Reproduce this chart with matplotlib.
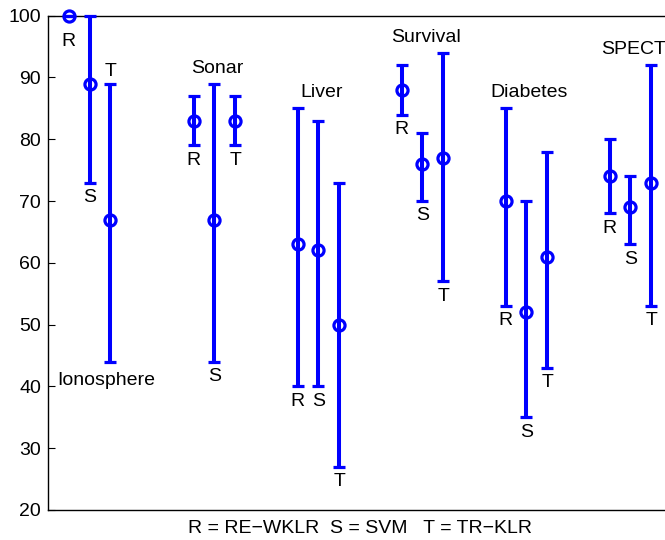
import matplotlib
matplotlib.use('Agg')
import matplotlib.pyplot as plt
import numpy as np

plt.rcParams['font.family'] = ['Liberation Sans', 'DejaVu Sans']

datasets = ['Ionosphere', 'Sonar', 'Liver', 'Survival', 'Diabetes', 'SPECT']
methods = ['R', 'S', 'T']

# accuracy (%) : mean, lower and upper end of the bar
mean_R = [100, 83, 63, 88, 70, 74]
low_R = [100, 79, 40, 84, 53, 68]
high_R = [100, 87, 85, 92, 85, 80]

mean_S = [89, 67, 62, 76, 52, 69]
low_S = [73, 44, 40, 70, 35, 63]
high_S = [100, 89, 83, 81, 70, 74]

mean_T = [67, 83, 50, 77, 61, 73]
low_T = [44, 79, 27, 57, 43, 53]
high_T = [89, 87, 73, 94, 78, 92]

legend_text = 'R = RE\u2212WKLR  S = SVM   T = TR\u2212KLR'

group_x = np.array([1.0, 2.2, 3.2, 4.2, 5.2, 6.2])
offsets = [-0.2, 0.0, 0.2]
fs = 14

fig = plt.figure(figsize=(6.65, 5.4), dpi=100)
ax = fig.add_axes([48 / 665, 30 / 540, 624 / 665, 494.3 / 540])

series = [(mean_R, low_R, high_R), (mean_S, low_S, high_S), (mean_T, low_T, high_T)]
for k, (m, lo, hi) in enumerate(series):
    m = np.array(m, dtype=float)
    lo = np.array(lo, dtype=float)
    hi = np.array(hi, dtype=float)
    x = group_x + offsets[k]
    ax.errorbar(x, m, yerr=[m - lo, hi - m], fmt='o', color='#0000ff',
                ecolor='#0000ff', elinewidth=2.9, capsize=4.5, capthick=2.6,
                markersize=8, markeredgewidth=2.3, markerfacecolor='none',
                clip_on=False, zorder=3)

    # method letters under the bars (one goes above)
    for i in range(len(datasets)):
        if i == 0 and k == 0:
            y = m[i] - 4.2
        elif i == 0 and k == 2:
            y = hi[i] + 2.0
        else:
            y = lo[i] - 2.4
        ax.text(x[i], y, methods[k], ha='center', va='center', fontsize=fs)

# dataset names
highs = np.max([high_R, high_S, high_T], axis=0)
for i, name in enumerate(datasets):
    if i == 0:
        ax.text(1.16, low_T[0] - 3.1, name, ha='center', va='center', fontsize=fs)
    else:
        ax.text(group_x[i] + 0.03, highs[i] + 2.5, name, ha='center',
                va='center', fontsize=fs)

ax.set_xlim(0.6, 6.6)
ax.set_ylim(20, 100)
ax.set_yticks(np.arange(20, 101, 10))
ax.set_xticks([])
ax.tick_params(axis='y', direction='in', length=5, labelsize=fs, pad=5)
for s in ax.spines.values():
    s.set_linewidth(1.0)
ax.set_xlabel(legend_text, fontsize=fs, labelpad=7)

plt.savefig('out.png', dpi=100)
